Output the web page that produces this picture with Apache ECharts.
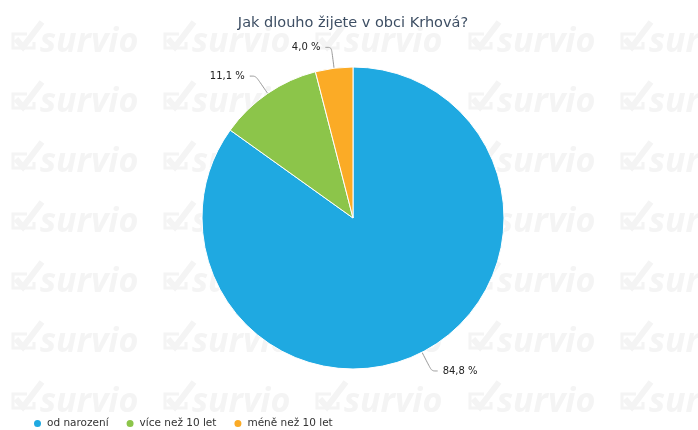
<!DOCTYPE html>
<html>
<head>
<meta charset="utf-8">
<script src="https://cdn.jsdelivr.net/npm/echarts@6/dist/echarts.min.js"></script>
<style>html,body{margin:0;padding:0;background:#fff}#c{width:698px;height:430px}</style>
</head>
<body>
<div id="c"></div>
<script>
var title = 'Jak dlouho žijete v obci Krhová?';
var categories = ['od narození', 'více než 10 let', 'méně než 10 let'];
var values = [84.8, 11.1, 4.0];
var colors = ['#1fa9e1', '#8cc54a', '#fbab26'];

var wmCols = [13, 165, 317, 470, 622];
var wmRows = [42, 102, 162, 222, 282, 342, 402];
var wmColor = '#f4f4f4';
var graphics = [];
wmRows.forEach(function (cy) {
  wmCols.forEach(function (cx) {
    graphics.push({
      type: 'group', x: cx, y: cy, silent: true, z: -10,
      children: [
        { type: 'polyline', shape: { points: [[14, -8], [0, -8], [0, 6], [21, 6], [21, 0]] }, style: { fill: 'none', stroke: wmColor, lineWidth: 3 } },
        { type: 'polyline', shape: { points: [[3, -3], [10, 5], [29, -20]] }, style: { fill: 'none', stroke: wmColor, lineWidth: 6 } },
        { type: 'text', x: 27, y: 0, style: { text: 'survio', fill: wmColor, font: 'italic bold 34px "Open Sans"', verticalAlign: 'middle' } }
      ]
    });
  });
});

var chart = echarts.init(document.getElementById('c'));
chart.setOption({
  backgroundColor: '#fff',
  animation: false,
  graphic: graphics,
  title: {
    text: title, left: 348, textAlign: 'center', top: 11,
    textStyle: { fontFamily: 'DejaVu Sans', fontSize: 14.5, fontWeight: 'normal', color: '#3e4f64' }
  },
  legend: {
    data: categories, left: 27, top: 413, icon: 'circle', itemWidth: 9, itemHeight: 9, itemGap: 16,
    textStyle: { fontFamily: 'DejaVu Sans', fontSize: 10.5, color: '#333' }
  },
  series: [{
    type: 'pie', center: [353, 218], radius: 151, startAngle: 90, clockwise: true,
    itemStyle: { borderColor: '#fff', borderWidth: 1 },
    label: {
      formatter: function (p) { return p.value.toFixed(1).replace('.', ',') + ' %'; },
      fontFamily: 'DejaVu Sans', fontSize: 10, color: '#222'
    },
    labelLine: { length: 21, length2: 6, smooth: true, lineStyle: { color: '#999', width: 1 } },
    data: categories.map(function (c, i) { return { name: c, value: values[i], itemStyle: { color: colors[i] } }; })
  }]
});
</script>
</body>
</html>
